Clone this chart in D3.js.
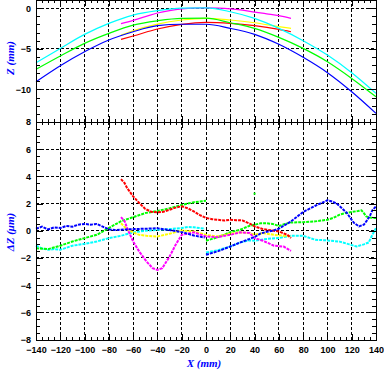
<!DOCTYPE html>
<html>
<head>
<meta charset="utf-8">
<script src="https://cdn.jsdelivr.net/npm/d3@7"></script>
<style>
  body { margin: 0; background: #fff; }
  svg { display: block; }
  .tick text { font-family: "Liberation Sans", Arial, sans-serif; font-size: 9px; font-weight: bold; fill: #000; }
  .domain { display: none; }
  .tick line { stroke: #000; shape-rendering: crispEdges; }
</style>
</head>
<body>
<svg id="chart" width="384" height="370"></svg>
<script>
// ---- top panel: Z (mm) profiles, [x mm, z mm]
const zBlue = [[-140,-9.05],[-120,-7.08],[-100,-5.36],[-80,-3.92],[-60,-2.9],[-40,-2.16],[-20,-1.98],[0,-1.98],[20,-2.49],[40,-3.23],[60,-4.45],[80,-6.05],[100,-7.94],[120,-10.28],[140,-12.94]];
const zCyan = [[-140,-6.71],[-120,-4.95],[-100,-3.23],[-80,-1.87],[-60,-0.85],[-40,-0.3],[-20,0.0],[0,0.03],[20,-0.44],[40,-1.26],[60,-2.49],[80,-4.0],[100,-5.77],[120,-7.94],[140,-10.48]];
const zGreen = [[-140,-7.53],[-120,-5.89],[-100,-4.33],[-80,-3.1],[-60,-2.08],[-40,-1.55],[-20,-1.26],[0,-1.24],[20,-1.8],[40,-2.49],[60,-3.6],[80,-4.95],[100,-6.59],[120,-8.64],[140,-10.9]];
const zMagenta = [[-70,-1.9],[-60,-1.5],[-50,-1.05],[-40,-0.6],[-30,-0.3],[-20,-0.1],[-10,0],[0,0.02],[10,0.0],[20,-0.08],[30,-0.25],[40,-0.48],[50,-0.7],[60,-0.92],[70,-1.26]];
const zYellow = [[-70,-3.31],[-60,-2.78],[-40,-1.96],[-20,-1.46],[0,-1.26],[20,-1.46],[40,-1.8],[60,-2.28],[70,-2.49]];
const zRed = [[-70,-3.84],[-60,-3.43],[-40,-2.57],[-20,-2.0],[0,-1.75],[20,-1.87],[40,-2.16],[60,-2.61],[70,-2.9]];

// ---- bottom panel: dZ (um) residuals, [x mm, dz um]
const dzBlueA = [[-140,0.15],[-135,0.3],[-130,0.1],[-125,0.25],[-120,0.2],[-115,0.35],[-110,0.3],[-105,0.45],[-100,0.5],[-95,0.45],[-90,0.5],[-85,0.3],[-80,0.1],[-75,0.05],[-70,0.08],[-65,0.1],[-60,0.12],[-50,0.15],[-40,0.18],[-30,0.05],[-20,-0.1],[-10,-0.35],[-1,-0.5]];
const dzBlueB = [[0,-1.77],[10,-1.5],[20,-1.16],[30,-0.8],[36,-0.6],[40,-0.45],[45,-0.2],[50,-0.08],[55,0.0],[60,0.15],[70,0.69],[80,1.38],[90,1.84],[100,2.24],[104,2.15],[108,1.97],[112,1.65],[116,1.31],[120,0.8],[122,0.57],[126,0.32],[130,0.45],[132,0.69],[135,1.1],[137,1.5],[140,1.8]];
const dzGreenA = [[-140,-1.28],[-130,-1.35],[-120,-1.1],[-110,-0.79],[-100,-0.54],[-90,-0.3],[-80,0.2],[-70,0.7],[-60,1.0],[-50,1.3],[-40,1.45],[-30,1.65],[-20,1.9],[-10,2.1],[0,2.2]];
const dzGreenB = [[0,-0.74],[5,-0.6],[9,-0.49],[15,-0.3],[20,-0.1],[28,0.07],[36,0.37],[40,0.44],[45,0.55],[50,0.55],[55,0.5],[60,0.35],[65,0.5],[70,0.61],[80,0.63],[90,0.69],[100,0.81],[105,0.95],[110,1.18],[115,1.3],[120,1.38],[125,1.45],[128,1.5],[130,1.3],[132,1.05],[136,0.95],[140,0.94]];
const dzGreenDot = [[40,2.73]];
const dzCyanA = [[-140,-1.1],[-135,-1.3],[-130,-1.4],[-125,-1.35],[-120,-1.4],[-115,-1.25],[-110,-1.1],[-100,-0.96],[-90,-0.79],[-80,-0.54],[-70,-0.37],[-60,-0.12],[-50,0.0],[-40,0.07],[-30,0.12],[-20,0.2],[-15,0.27],[-10,0.25],[-1,0.15]];
const dzCyanB = [[0,-1.6],[9,-1.45],[20,-1.16],[28,-0.86],[36,-0.7],[40,-0.74],[50,-0.6],[60,-0.54],[70,-0.37],[80,-0.37],[90,-0.66],[100,-0.71],[110,-0.8],[118,-1.0],[124,-1.16],[130,-1.0],[134,-0.86],[137,-0.3],[140,0.2]];
const dzRed = [[-70,3.8],[-67,3.5],[-65,3.15],[-60,2.53],[-55,2.04],[-50,1.6],[-45,1.4],[-40,1.35],[-35,1.4],[-30,1.55],[-25,1.7],[-20,1.8],[-15,1.65],[-10,1.42],[-5,1.15],[0,0.94],[5,0.85],[10,0.81],[15,0.75],[20,0.81],[25,0.78],[30,0.76],[36,0.52],[40,0.32],[47,0.12],[56,0.0],[60,-0.05],[67,-0.3],[70,-0.54]];
const dzYellow = [[-70,0.55],[-65,0.1],[-60,-0.12],[-55,-0.3],[-49,-0.37],[-40,-0.42],[-30,-0.22],[-20,0.02],[-10,-0.05],[0,-0.3],[9,-0.42],[20,-0.22],[28,-0.12],[36,-0.17],[40,-0.3],[47,-0.17],[56,-0.3],[64,-0.37],[70,-0.42]];
const dzMagenta = [[-70,1.0],[-67,0.7],[-65,0.2],[-60,-0.79],[-55,-1.53],[-49,-2.26],[-44,-2.75],[-40,-2.88],[-36,-2.75],[-30,-1.9],[-25,-1.03],[-20,-0.3],[-10,-0.12],[0,-0.42],[9,-0.47],[20,-0.3],[28,-0.12],[36,-0.17],[40,-0.54],[47,-0.74],[56,-1.1],[64,-1.16],[70,-1.48]];

const xTicks = d3.range(-140, 141, 20);
const zTicks = [0, -5, -10];
const dzTicks = d3.range(-8, 9, 2);

const svg = d3.select("#chart");
const x = d3.scaleLinear([-140, 140], [36, 376]);
const yTop = d3.scaleLinear([-14, 1], [122, 0]);
const yBot = d3.scaleLinear([-8, 8], [339.5, 122]);

function grid(y, yVals) {
  const g = svg.append("g")
    .attr("stroke", "#000").attr("stroke-dasharray", "3,2")
    .attr("shape-rendering", "crispEdges");
  const [y0, y1] = y.range();
  g.selectAll(".gx").data(xTicks.slice(1, -1)).enter().append("line")
    .attr("x1", d => x(d)).attr("x2", d => x(d))
    .attr("y1", y0).attr("y2", y1);
  g.selectAll(".gy").data(yVals).enter().append("line")
    .attr("x1", x(-140)).attr("x2", x(140))
    .attr("y1", d => y(d)).attr("y2", d => y(d));
}

function frame(y, majorY, minorY, labelY, labelX) {
  const [y0, y1] = y.range();
  const minorX = d3.range(-140, 141, 5);
  // bottom
  svg.append("g").attr("transform", `translate(0,${y0})`)
    .call(d3.axisBottom(x).tickValues(xTicks).tickSize(-6).tickPadding(7)
      .tickFormat(labelX ? d3.format("d") : ""));
  svg.append("g").attr("transform", `translate(0,${y0})`)
    .call(d3.axisBottom(x).tickValues(minorX).tickSize(-3).tickFormat(""));
  // top
  svg.append("g").attr("transform", `translate(0,${y1})`)
    .call(d3.axisTop(x).tickValues(xTicks).tickSize(-6).tickFormat(""));
  svg.append("g").attr("transform", `translate(0,${y1})`)
    .call(d3.axisTop(x).tickValues(minorX).tickSize(-3).tickFormat(""));
  // left
  svg.append("g").attr("transform", `translate(${x(-140)},0)`)
    .call(d3.axisLeft(y).tickValues(labelY).tickSize(-7).tickPadding(5).tickFormat(d3.format("d")));
  svg.append("g").attr("transform", `translate(${x(-140)},0)`)
    .call(d3.axisLeft(y).tickValues(minorY).tickSize(-4).tickFormat(""));
  // right
  svg.append("g").attr("transform", `translate(${x(140)},0)`)
    .call(d3.axisRight(y).tickValues(majorY).tickSize(-7).tickFormat(""));
  svg.append("g").attr("transform", `translate(${x(140)},0)`)
    .call(d3.axisRight(y).tickValues(minorY).tickSize(-4).tickFormat(""));
  svg.append("rect")
    .attr("x", x(-140) + 0.5).attr("y", y1 + 0.5)
    .attr("width", x(140) - x(-140)).attr("height", y0 - y1)
    .attr("fill", "none").attr("stroke", "#000")
    .attr("shape-rendering", "crispEdges");
}

grid(yTop, zTicks);
grid(yBot, dzTicks.slice(1, -1));

const lineTop = d3.line().x(d => x(d[0])).y(d => yTop(d[1])).curve(d3.curveMonotoneX);
const lineBot = d3.line().x(d => x(d[0])).y(d => yBot(d[1]));

const topSeries = [
  [zYellow, "#ffff00"], [zRed, "#ff0000"], [zMagenta, "#ff00ff"],
  [zGreen, "#00ff00"], [zCyan, "#00ffff"], [zBlue, "#0000ff"]
];
topSeries.forEach(([data, color]) => {
  svg.append("path").datum(data)
    .attr("d", lineTop).attr("fill", "none")
    .attr("stroke", color).attr("stroke-width", 1.2);
});

const botSeries = [
  [dzCyanA, "#00ffff"], [dzCyanB, "#00ffff"],
  [dzGreenA, "#00ff00"], [dzGreenB, "#00ff00"],
  [dzYellow, "#ffff00"], [dzMagenta, "#ff00ff"],
  [dzRed, "#ff0000"], [dzBlueA, "#0000ff"], [dzBlueB, "#0000ff"]
];
botSeries.forEach(([data, color]) => {
  svg.append("path").datum(data)
    .attr("d", lineBot).attr("fill", "none")
    .attr("stroke", color).attr("stroke-width", 2)
    .attr("stroke-dasharray", "3,1");
});
svg.selectAll(".dot").data(dzGreenDot).enter().append("rect")
  .attr("x", d => x(d[0]) - 1).attr("y", d => yBot(d[1]) - 1)
  .attr("width", 2).attr("height", 2).attr("fill", "#00ff00");

frame(yTop, zTicks, d3.range(-14, 2, 1), zTicks, false);
frame(yBot, dzTicks, d3.range(-8, 8.01, 0.5), dzTicks, true);

// axis titles
const titleFont = "'Liberation Serif', 'Times New Roman', serif";
svg.append("text")
  .attr("transform", "translate(14,58) rotate(-90)")
  .attr("text-anchor", "middle")
  .attr("font-family", titleFont).attr("font-style", "italic").attr("font-weight", "bold")
  .attr("font-size", 11).attr("fill", "#0000ff")
  .text("Z (mm)");
svg.append("text")
  .attr("transform", "translate(14,232) rotate(-90)")
  .attr("text-anchor", "middle")
  .attr("font-family", titleFont).attr("font-style", "italic").attr("font-weight", "bold")
  .attr("font-size", 11).attr("fill", "#0000ff")
  .text("ΔZ (μm)");
svg.append("text")
  .attr("x", 204).attr("y", 367)
  .attr("text-anchor", "middle")
  .attr("font-family", titleFont).attr("font-style", "italic").attr("font-weight", "bold")
  .attr("font-size", 11).attr("fill", "#0000ff")
  .text("X (mm)");
</script>
</body>
</html>
